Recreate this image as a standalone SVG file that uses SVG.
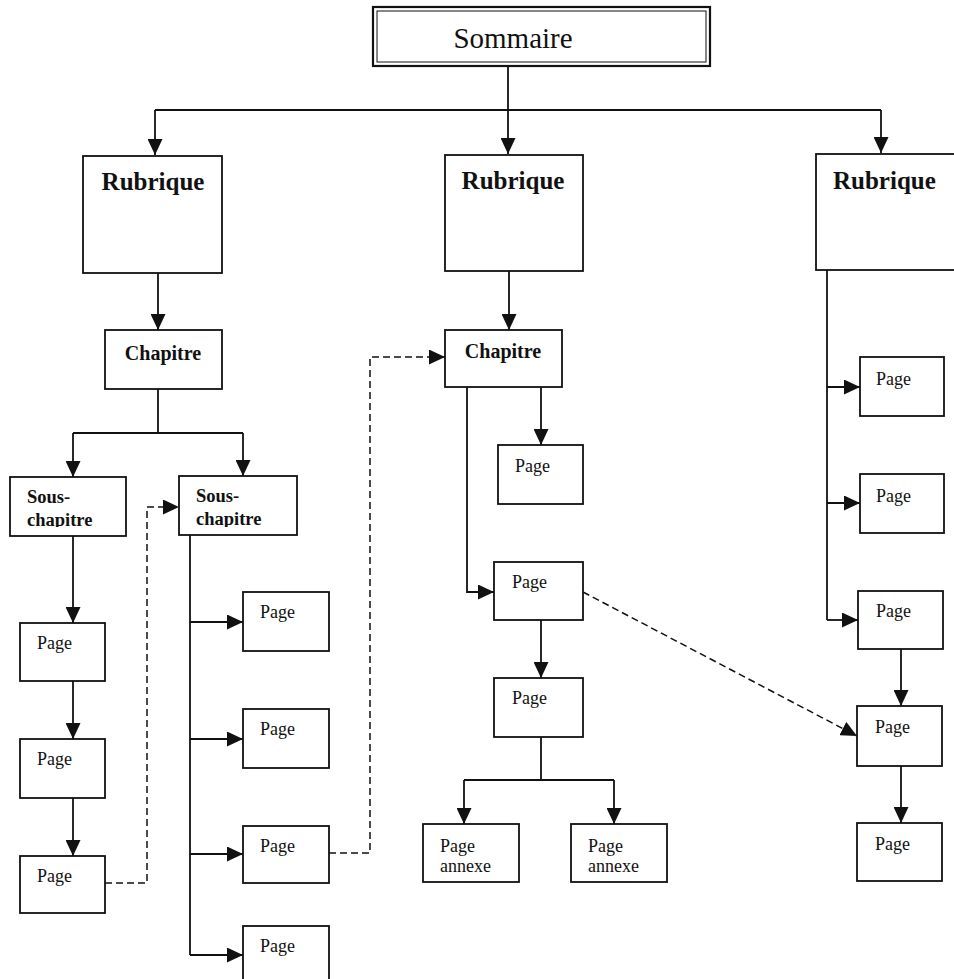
<svg xmlns="http://www.w3.org/2000/svg" width="954" height="979" viewBox="0 0 954 979">
  <style>
    .box { fill: #fff; stroke: #111; stroke-width: 1.8; }
    .ln { fill: none; stroke: #111; stroke-width: 1.8; }
    .dash { fill: none; stroke: #111; stroke-width: 1.5; stroke-dasharray: 7 4; }
    .t { font-family: "Liberation Serif", "Times New Roman", serif; fill: #111; }
    .title { font-size: 29px; }
    .rub { font-size: 25px; font-weight: bold; }
    .chap { font-size: 20px; font-weight: bold; }
    .sous { font-size: 18.5px; font-weight: bold; }
    .pg { font-size: 18px; }
  </style>
  <defs>
    <marker id="arr" markerUnits="userSpaceOnUse" markerWidth="16" markerHeight="15" refX="16" refY="7.5" orient="auto">
      <path d="M0,0 L16,7.5 L0,15 z" fill="#111"/>
    </marker>
    <!-- the sub-chapter labels are cut off just below their baseline -->
    <clipPath id="clipSousL"><rect x="10" y="478" width="116" height="49"/></clipPath>
    <clipPath id="clipSousR"><rect x="180" y="477" width="117" height="50"/></clipPath>
  </defs>

  <rect width="954" height="979" fill="#fff"/>

  <!-- connectors -->
  <g id="connectors">
    <!-- sommaire to rubriques -->
    <path class="ln" d="M508,66 V110"/>
    <path class="ln" d="M155,110 H881"/>
    <path class="ln" d="M155,110 V155" marker-end="url(#arr)"/>
    <path class="ln" d="M508,110 V154" marker-end="url(#arr)"/>
    <path class="ln" d="M881,110 V153" marker-end="url(#arr)"/>

    <!-- left rubrique branch -->
    <path class="ln" d="M158,273 V330" marker-end="url(#arr)"/>
    <path class="ln" d="M158,389 V433 M73,433 H243"/>
    <path class="ln" d="M73,433 V477" marker-end="url(#arr)"/>
    <path class="ln" d="M243,433 V476" marker-end="url(#arr)"/>
    <path class="ln" d="M73,536 V623" marker-end="url(#arr)"/>
    <path class="ln" d="M73,681 V739" marker-end="url(#arr)"/>
    <path class="ln" d="M73,798 V856" marker-end="url(#arr)"/>
    <path class="ln" d="M190,535 V955"/>
    <path class="ln" d="M190,622 H243" marker-end="url(#arr)"/>
    <path class="ln" d="M190,739 H243" marker-end="url(#arr)"/>
    <path class="ln" d="M190,854 H243" marker-end="url(#arr)"/>
    <path class="ln" d="M190,955 H243" marker-end="url(#arr)"/>
    <path class="dash" d="M105,883 H147 V507 H179" marker-end="url(#arr)"/>
    <path class="dash" d="M329,853 H370 V357 H445" marker-end="url(#arr)"/>

    <!-- middle rubrique branch -->
    <path class="ln" d="M509,271 V330" marker-end="url(#arr)"/>
    <path class="ln" d="M467,387 V592 H494" marker-end="url(#arr)"/>
    <path class="ln" d="M541,387 V445" marker-end="url(#arr)"/>
    <path class="ln" d="M541,620 V678" marker-end="url(#arr)"/>
    <path class="ln" d="M541,737 V780 M464,780 H614"/>
    <path class="ln" d="M464,780 V824" marker-end="url(#arr)"/>
    <path class="ln" d="M614,780 V824" marker-end="url(#arr)"/>
    <path class="dash" d="M583,592 L857,736" marker-end="url(#arr)"/>

    <!-- right rubrique branch -->
    <path class="ln" d="M827,270 V620"/>
    <path class="ln" d="M827,387 H860" marker-end="url(#arr)"/>
    <path class="ln" d="M827,503 H860" marker-end="url(#arr)"/>
    <path class="ln" d="M827,620 H858" marker-end="url(#arr)"/>
    <path class="ln" d="M901,649 V706" marker-end="url(#arr)"/>
    <path class="ln" d="M901,766 V823" marker-end="url(#arr)"/>
  </g>

  <!-- top -->
  <g id="sommaire">
    <rect x="373" y="7" width="337" height="59" fill="#fff" stroke="#111" stroke-width="2.2"/>
    <rect x="377" y="11" width="329" height="51" fill="none" stroke="#111" stroke-width="1"/>
    <text class="t title" x="513" y="48" text-anchor="middle">Sommaire</text>
  </g>

  <!-- rubriques -->
  <g id="rubrique-1">
    <rect class="box" x="83" y="156" width="139" height="117"/>
    <text class="t rub" x="153" y="190" text-anchor="middle">Rubrique</text>
  </g>
  <g id="rubrique-2">
    <rect class="box" x="445" y="155" width="138" height="116"/>
    <text class="t rub" x="513" y="189" text-anchor="middle">Rubrique</text>
  </g>
  <g id="rubrique-3">
    <rect class="box" x="816" y="154" width="150" height="116"/>
    <text class="t rub" x="833" y="189">Rubrique</text>
  </g>

  <!-- left branch -->
  <g id="chapitre-1">
    <rect class="box" x="105" y="330" width="117" height="59"/>
    <text class="t chap" x="163" y="360" text-anchor="middle">Chapitre</text>
  </g>
  <g id="sous-chapitre-1">
    <rect class="box" x="10" y="477" width="116" height="59"/>
    <text class="t sous" x="27" y="503" clip-path="url(#clipSousL)">Sous-<tspan x="27" y="525.5">chapitre</tspan></text>
  </g>
  <g id="sous-chapitre-2">
    <rect class="box" x="179" y="476" width="118" height="59"/>
    <text class="t sous" x="196" y="502" clip-path="url(#clipSousR)">Sous-<tspan x="196" y="525">chapitre</tspan></text>
  </g>
  <g id="page-l1">
    <rect class="box" x="20" y="623" width="85" height="58"/>
    <text class="t pg" x="37" y="649">Page</text>
  </g>
  <g id="page-l2">
    <rect class="box" x="20" y="739" width="85" height="59"/>
    <text class="t pg" x="37" y="765">Page</text>
  </g>
  <g id="page-l3">
    <rect class="box" x="20" y="856" width="85" height="57"/>
    <text class="t pg" x="37" y="882">Page</text>
  </g>
  <g id="page-r1">
    <rect class="box" x="243" y="592" width="86" height="59"/>
    <text class="t pg" x="260" y="618">Page</text>
  </g>
  <g id="page-r2">
    <rect class="box" x="243" y="709" width="86" height="59"/>
    <text class="t pg" x="260" y="735">Page</text>
  </g>
  <g id="page-r3">
    <rect class="box" x="243" y="826" width="86" height="57"/>
    <text class="t pg" x="260" y="852">Page</text>
  </g>
  <g id="page-r4">
    <rect class="box" x="243" y="926" width="86" height="70"/>
    <text class="t pg" x="260" y="952">Page</text>
  </g>

  <!-- middle branch -->
  <g id="chapitre-2">
    <rect class="box" x="445" y="330" width="117" height="57"/>
    <text class="t chap" x="503" y="358" text-anchor="middle">Chapitre</text>
  </g>
  <g id="page-m0">
    <rect class="box" x="498" y="445" width="85" height="59"/>
    <text class="t pg" x="515" y="472">Page</text>
  </g>
  <g id="page-m1">
    <rect class="box" x="494" y="562" width="89" height="58"/>
    <text class="t pg" x="512" y="588">Page</text>
  </g>
  <g id="page-m2">
    <rect class="box" x="494" y="678" width="89" height="59"/>
    <text class="t pg" x="512" y="704">Page</text>
  </g>
  <g id="annexe-1">
    <rect class="box" x="423" y="824" width="96" height="58"/>
    <text class="t pg" x="440" y="852">Page<tspan x="440" y="872">annexe</tspan></text>
  </g>
  <g id="annexe-2">
    <rect class="box" x="571" y="824" width="96" height="58"/>
    <text class="t pg" x="588" y="852">Page<tspan x="588" y="872">annexe</tspan></text>
  </g>

  <!-- right branch -->
  <g id="page-x1">
    <rect class="box" x="860" y="357" width="84" height="59"/>
    <text class="t pg" x="876" y="385">Page</text>
  </g>
  <g id="page-x2">
    <rect class="box" x="860" y="474" width="84" height="59"/>
    <text class="t pg" x="876" y="502">Page</text>
  </g>
  <g id="page-x3">
    <rect class="box" x="858" y="591" width="85" height="58"/>
    <text class="t pg" x="876" y="617">Page</text>
  </g>
  <g id="page-x4">
    <rect class="box" x="857" y="706" width="85" height="60"/>
    <text class="t pg" x="875" y="733">Page</text>
  </g>
  <g id="page-x5">
    <rect class="box" x="857" y="823" width="85" height="58"/>
    <text class="t pg" x="875" y="850">Page</text>
  </g>
</svg>
